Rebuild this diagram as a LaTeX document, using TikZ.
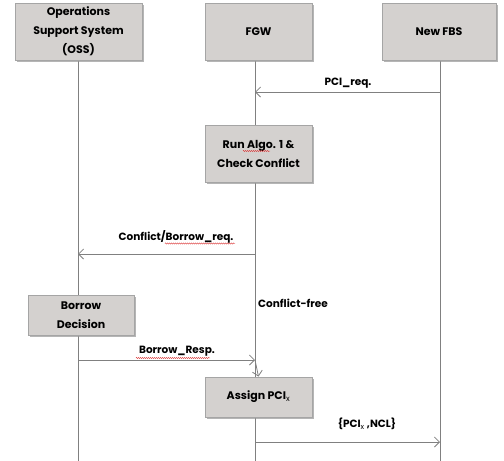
\documentclass[tikz,border=0pt]{standalone}
\usepackage{fontspec}
\setmainfont{Poppins}
\usetikzlibrary{arrows.meta,decorations.pathmorphing,shadows}
\definecolor{boxfill}{RGB}{212,209,207}
\definecolor{boxline}{RGB}{165,165,165}
\definecolor{lifeline}{RGB}{128,128,128}
\definecolor{shadowc}{RGB}{150,150,150}
\definecolor{squig}{RGB}{220,60,60}
\tikzset{
  x=1pt, y=-1pt,
  ent/.style={draw=boxline, line width=0.8pt, fill=boxfill, inner sep=0pt, align=center,
    font=\bfseries\fontsize{11}{19}\selectfont,
    drop shadow={shadow xshift=2pt, shadow yshift=-2pt, fill=shadowc, opacity=0.7}},
  life/.style={draw=lifeline, line width=0.8pt},
  msg/.style={draw=lifeline, line width=0.8pt, -{Straight Barb[length=5pt,width=10pt,line width=0.8pt]}},
  lbl/.style={font=\bfseries\fontsize{10.5}{12}\selectfont, inner sep=0pt},
  spell/.style={draw=squig, line width=0.4pt, decorate, decoration={snake, amplitude=0.6pt, segment length=2pt}}
}
\begin{document}
\begin{tikzpicture}
\useasboundingbox (0,0) rectangle (504,461);
% lifelines
\coordinate (ossT) at (78,60);   \coordinate (ossB) at (78,461);
\coordinate (fgwT) at (255,60);  \coordinate (fgwB) at (255,461);
\coordinate (fbsT) at (440,60);  \coordinate (fbsB) at (440,461);
\draw[life] (ossT) -- (ossB);
\draw[life] (fgwT) -- (fgwB);
\draw[life] (fbsT) -- (fbsB);
% header boxes
\node[ent, minimum width=127pt, minimum height=57pt] (oss) at (78.5,31.5) {Operations\\Support System\\(OSS)};
\node[ent, minimum width=107pt, minimum height=57pt] (fgw) at (258.5,31.5) {FGW};
\node[ent, minimum width=114pt, minimum height=57pt] (fbs) at (439,31.5) {New FBS};
% process boxes
\node[ent, minimum width=107pt, minimum height=57pt] (run) at (258.5,153.5) {Run Algo. 1 \&\\Check Conflict};
\node[ent, minimum width=106pt, minimum height=40pt] (bd) at (81,315) {Borrow\\Decision};
\node[ent, minimum width=107pt, minimum height=40pt] (assign) at (258.5,397) {Assign PCI$_{\mathrm{x}}$};
% message anchors
\coordinate (m1s) at (440,92);  \coordinate (m1e) at (255,92);
\coordinate (m2s) at (255,254); \coordinate (m2e) at (78,254);
\coordinate (m3s) at (78,360);  \coordinate (m3e) at (255,360);
\coordinate (m4s) at (255,360); \coordinate (m4e) at (255,377);
\coordinate (m5s) at (255,442); \coordinate (m5e) at (440,442);
\draw[msg] (m1s) -- (m1e);
\draw[msg] (m2s) -- (m2e);
\draw[msg] (m3s) -- (m3e);
\draw[msg] (m4s) -- (assign.north);
\draw[msg] (m5s) -- (m5e);
% labels
\node[lbl] (l1) at (348,83) {PCI\_req.};
\node[lbl] (l2) at (176,237) {Conflict/Borrow\_req.};
\node[lbl, anchor=west] (l3) at (258,303) {Conflict-free};
\node[lbl] (l4) at (177,351) {Borrow\_Resp.};
\node[lbl] (l5) at (367,424) {\{PCI$_{\mathrm{x}}$ ,NCL\}};
% spell-check squiggles
\draw[spell] (243,151) -- (270,151);
\draw[spell] (165,243.5) -- (235,243.5);
\draw[spell] (136,358) -- (210,358);
\end{tikzpicture}
\end{document}
